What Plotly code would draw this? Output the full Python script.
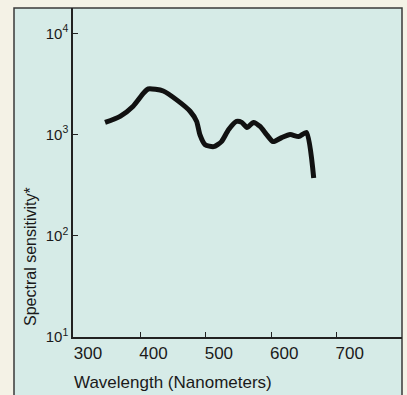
import plotly.graph_objects as go

# Spectral sensitivity curve (wavelength in nm, relative sensitivity)
wavelength = [326, 349, 369, 385, 392, 415, 438, 456, 466, 471, 479, 492, 504,
              515, 527, 535, 543, 553, 563, 573, 583, 596, 609, 622, 634, 645]
sensitivity = [1318, 1514, 1905, 2570, 2818, 2692, 2138, 1698, 1349, 1000, 794,
               759, 851, 1122, 1349, 1318, 1175, 1318, 1202, 1000, 851, 933,
               1000, 955, 1047, 372]

x_tick_vals = [300, 400, 500, 600, 700]
x_tick_text = ["300", "400", "500", "600", "700"]
x_tick_marks = [380, 480, 580, 680]
y_tick_vals = [10, 100, 1000, 10000]
y_tick_text = ["10<sup>1</sup>", "10<sup>2</sup>", "10<sup>3</sup>", "10<sup>4</sup>"]

W, H = 407, 395
L, R, T, B = 73, 5, 8, 58
pw, ph = W - L - R, H - T - B


def px_x(px):
    return (px - L) / pw


def px_y(py):
    return (H - B - py) / ph


fig = go.Figure()
fig.add_trace(go.Scatter(
    x=wavelength, y=sensitivity, mode="lines",
    line=dict(color="#111111", width=5, shape="spline", smoothing=0.6),
    hoverinfo="skip", showlegend=False,
))

font = dict(family="Liberation Sans, Arial, sans-serif", size=16, color="#1a1a1a")

# framed panel behind the chart
fig.add_shape(type="rect", xref="paper", yref="paper", layer="below",
              x0=px_x(14), x1=1.0, y0=px_y(H + 5), y1=1.0,
              fillcolor="#d6ebe7", line=dict(color="#3a3a3a", width=1.5))

fig.add_annotation(text="Wavelength (Nanometers)", xref="paper", yref="paper",
                   x=px_x(72), y=px_y(382), xanchor="left", yanchor="middle",
                   showarrow=False, font=dict(size=17))
fig.add_annotation(text="Spectral sensitivity*", xref="paper", yref="paper",
                   x=px_x(30), y=px_y(257), xanchor="center", yanchor="middle",
                   textangle=-90, showarrow=False, font=dict(size=16))

fig.update_layout(
    width=W, height=H,
    margin=dict(l=L, r=R, t=T, b=B),
    paper_bgcolor="#f4f2e6",
    plot_bgcolor="rgba(0,0,0,0)",
    font=font,
    xaxis=dict(
        range=[277, 780], tickvals=x_tick_vals, ticktext=x_tick_text,
        ticks="", showgrid=False, zeroline=False,
        showline=True, linecolor="#222222", linewidth=1.5,
        minor=dict(tickvals=x_tick_marks, ticks="inside", ticklen=5,
                   tickcolor="#222222", tickwidth=1.2, showgrid=False),
        tickfont=dict(size=17),
    ),
    yaxis=dict(
        type="log", range=[1, 4.25], tickvals=y_tick_vals, ticktext=y_tick_text,
        ticks="inside", ticklen=5, tickcolor="#222222", tickwidth=1.2,
        showgrid=False, zeroline=False,
        showline=True, linecolor="#222222", linewidth=1.5,
        tickfont=dict(size=15),
    ),
)

fig.write_html("out.html")
